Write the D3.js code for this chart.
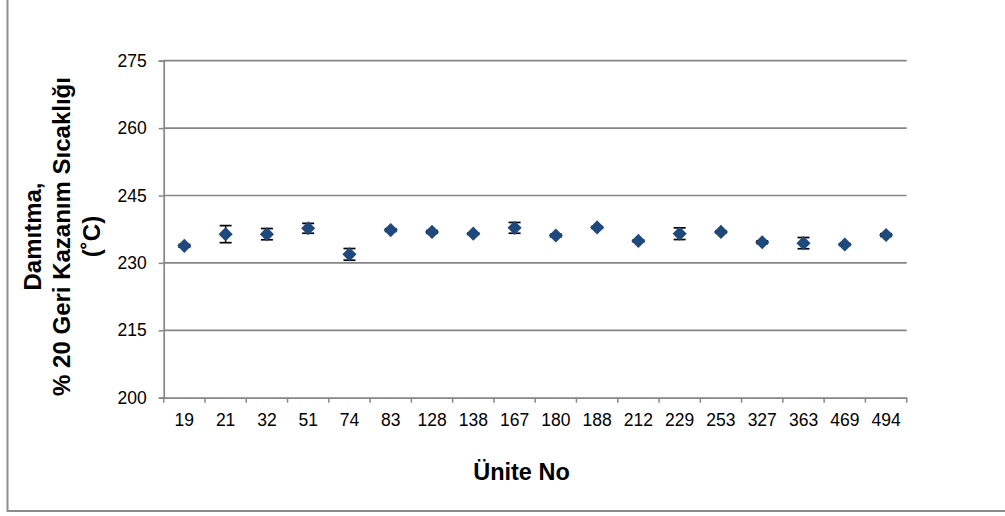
<!DOCTYPE html>
<html><head><meta charset="utf-8">
<script src="https://cdn.jsdelivr.net/npm/d3@7"></script>
<style>body{margin:0;background:#fff}svg{display:block;font-family:"Liberation Sans",Arial,sans-serif}</style>
</head><body>
<svg id="c" width="1005" height="516"></svg>
<script>
const categories = ["19","21","32","51","74","83","128","138","167","180","188","212","229","253","327","363","469","494"];
const values = [233.8,236.4,236.4,237.7,231.9,237.3,236.9,236.5,237.8,236.1,237.9,234.9,236.5,236.9,234.6,234.4,234.1,236.2];
const errors = [0.3,1.9,1.25,1.1,1.3,0.3,0.3,0.2,1.2,0.3,0.2,0.2,1.3,0.2,0.3,1.25,0.2,0.3];
const yTicks = [200,215,230,245,260,275];
const yTitle = ["Damıtma,","% 20 Geri Kazanım Sıcaklığı","(˚C)"];
const xTitle = "Ünite No";

const svg = d3.select("#c");
const L = 163.7, R = 906.7, T = 60.7, B = 397.7;
const grey = "#868686";

svg.append("rect").attr("x",7.5).attr("y",-2).attr("width",1010).attr("height",513)
  .attr("fill","none").attr("stroke","#8c8c8c").attr("stroke-width",2);

const x = d3.scaleBand().domain(categories).range([L,R]).paddingInner(0).paddingOuter(0);
const y = d3.scaleLinear().domain([200,275]).range([B,T]);

// gridlines
svg.append("g").selectAll("line").data(yTicks.slice(1)).join("line")
  .attr("x1",L).attr("x2",R).attr("y1",d=>y(d)).attr("y2",d=>y(d))
  .attr("stroke",grey).attr("stroke-width",1.7);

// y axis
const ya = svg.append("g").attr("transform",`translate(${L},0)`)
  .call(d3.axisLeft(y).tickValues(yTicks).tickSize(5).tickPadding(12));
ya.select(".domain").attr("stroke",grey).attr("stroke-width",1.7);
ya.selectAll(".tick line").attr("stroke",grey).attr("stroke-width",1.5);
ya.selectAll("text").attr("font-size",17.5).attr("fill","#000").attr("font-family","Liberation Sans, Arial");

// x axis
const xa = svg.append("g").attr("transform",`translate(0,${B})`)
  .call(d3.axisBottom(x).tickSize(0).tickPadding(16));
xa.select(".domain").attr("stroke",grey).attr("stroke-width",1.7);
xa.selectAll("text").attr("font-size",17.5).attr("fill","#000").attr("font-family","Liberation Sans, Arial");
// boundary ticks
const bounds = categories.map(c=>x(c)).concat([R]);
svg.append("g").selectAll("line").data(bounds).join("line")
  .attr("x1",d=>d).attr("x2",d=>d).attr("y1",B).attr("y2",B+5)
  .attr("stroke",grey).attr("stroke-width",1.5);

// error bars
const eg = svg.append("g");
categories.forEach((c,i)=>{
  const cx = x(c)+x.bandwidth()/2;
  const y1 = y(values[i]+errors[i]), y2 = y(values[i]-errors[i]);
  eg.append("line").attr("x1",cx).attr("x2",cx).attr("y1",y1).attr("y2",y2).attr("stroke","#000").attr("stroke-width",1.5);
  eg.append("line").attr("x1",cx-6).attr("x2",cx+6).attr("y1",y1).attr("y2",y1).attr("stroke","#000").attr("stroke-width",1.7);
  eg.append("line").attr("x1",cx-6).attr("x2",cx+6).attr("y1",y2).attr("y2",y2).attr("stroke","#000").attr("stroke-width",1.7);
});

// markers
const sym = d3.symbol().type(d3.symbolSquare).size(100);
svg.append("g").selectAll("path").data(values).join("path")
  .attr("d",sym)
  .attr("transform",(d,i)=>`translate(${x(categories[i])+x.bandwidth()/2},${y(d)}) rotate(45)`)
  .attr("fill","#1f497d");

// titles
svg.append("text").attr("x",521.5).attr("y",480).attr("text-anchor","middle")
  .attr("font-size",23.5).attr("font-weight","bold").text(xTitle);
const yt = svg.append("text").attr("transform","translate(0,236.5) rotate(-90)")
  .attr("text-anchor","middle").attr("font-size",24).attr("font-weight","bold");
yTitle.forEach((t,i)=>{
  yt.append("tspan").attr("x",0).attr("y",40.7+i*29.5).text(t);
});
</script>
</body></html>
